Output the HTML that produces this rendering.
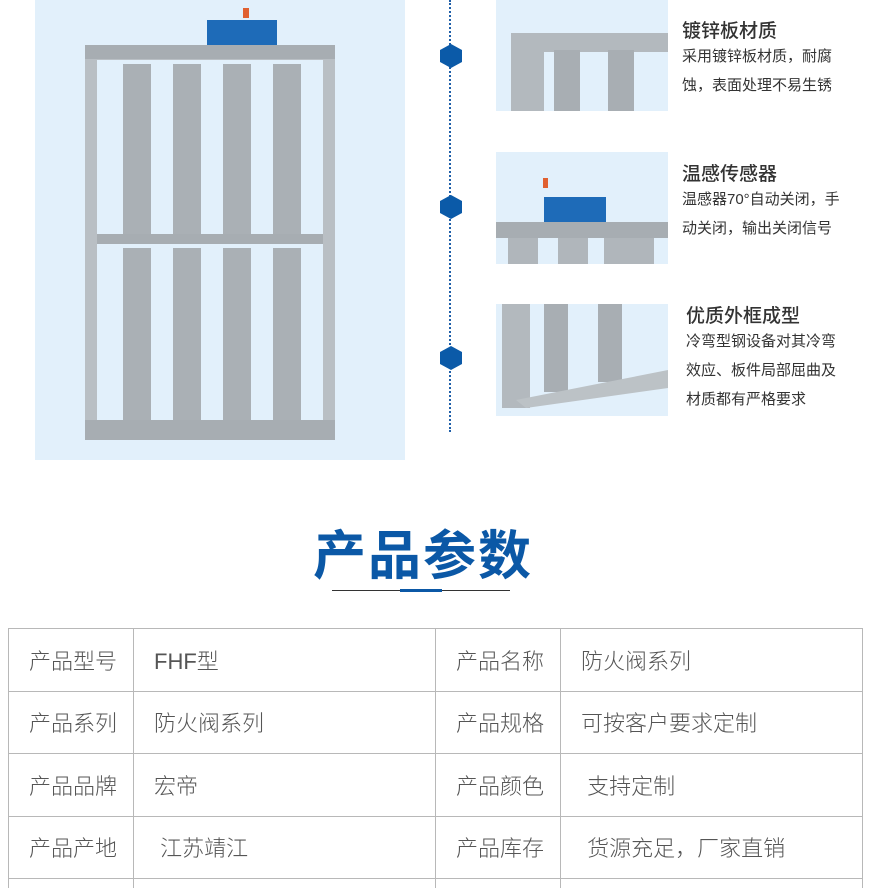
<!DOCTYPE html>
<html style="width:875px;height:888px;overflow:hidden"><head><meta charset="utf-8"><style>
*{margin:0;padding:0;box-sizing:border-box}
body{width:875px;height:888px;background:#fff;position:relative;overflow:hidden;font-family:"Liberation Sans","Noto Sans CJK SC",sans-serif;color:#333}
.a{position:absolute}
.h{font-size:19px;color:#333;font-weight:500}
.d{font-size:15px;line-height:29px;color:#333}
table{position:absolute;left:8px;top:628px;border-collapse:collapse}
td{border:1px solid #b8b8b8;height:62.5px;font-size:22px;color:#555;padding-left:20px;vertical-align:middle;font-weight:300}
tr.last td{height:10px;border-bottom:none}
</style></head><body>
<svg class="a" style="left:35px;top:0" width="370" height="460">
<rect width="370" height="460" fill="#e2f0fb"/>
<rect x="172" y="20" width="70" height="28" fill="#1e6bb8"/>
<rect x="208" y="8" width="6" height="10" fill="#e06030"/>
<rect x="50" y="45" width="250" height="395" fill="#b9bfc4"/>
<rect x="62" y="60" width="226" height="368" fill="#e2f0fb"/>
<rect x="50" y="45" width="250" height="14" fill="#a7adb2"/>
<rect x="62" y="234" width="226" height="10" fill="#a7adb2"/>
<g fill="#aab0b5">
<rect x="88" y="64" width="28" height="170"/><rect x="138" y="64" width="28" height="170"/><rect x="188" y="64" width="28" height="170"/><rect x="238" y="64" width="28" height="170"/>
<rect x="88" y="248" width="28" height="172"/><rect x="138" y="248" width="28" height="172"/><rect x="188" y="248" width="28" height="172"/><rect x="238" y="248" width="28" height="172"/>
</g>
<rect x="50" y="420" width="250" height="20" fill="#a7adb2"/>
</svg>
<div class="a" style="left:449px;top:0;height:432px;border-left:2px dotted #1f5fa8"></div>
<svg class="a" style="left:439px;top:44px" width="24" height="24"><polygon points="12,0 23,6 23,18 12,24 1,18 1,6" fill="#0b5aa8"/></svg>
<svg class="a" style="left:439px;top:195px" width="24" height="24"><polygon points="12,0 23,6 23,18 12,24 1,18 1,6" fill="#0b5aa8"/></svg>
<svg class="a" style="left:439px;top:346px" width="24" height="24"><polygon points="12,0 23,6 23,18 12,24 1,18 1,6" fill="#0b5aa8"/></svg>
<svg class="a" style="left:496px;top:0" width="172" height="111"><rect width="172" height="111" fill="#e2f0fb"/><rect x="15" y="33" width="157" height="78" fill="#b3b9be"/><rect x="48" y="52" width="124" height="59" fill="#e2f0fb"/><rect x="58" y="50" width="26" height="61" fill="#a8aeb3"/><rect x="112" y="50" width="26" height="61" fill="#a8aeb3"/></svg>
<svg class="a" style="left:496px;top:152px" width="172" height="112"><rect width="172" height="112" fill="#e2f0fb"/><rect x="48" y="45" width="62" height="30" fill="#1e6bb8"/><rect x="47" y="26" width="5" height="10" fill="#e06030"/><rect x="0" y="70" width="172" height="16" fill="#a7adb2"/><rect x="12" y="86" width="30" height="26" fill="#b0b6bb"/><rect x="62" y="86" width="30" height="26" fill="#b0b6bb"/><rect x="108" y="86" width="50" height="26" fill="#b0b6bb"/></svg>
<svg class="a" style="left:496px;top:304px" width="172" height="112"><rect width="172" height="112" fill="#e2f0fb"/><rect x="6" y="0" width="28" height="104" fill="#b3b9be"/><rect x="48" y="0" width="24" height="88" fill="#a8aeb3"/><rect x="102" y="0" width="24" height="78" fill="#a8aeb3"/><polygon points="20,96 172,66 172,84 30,104" fill="#bcc2c6"/></svg>
<div class="a h" style="left:682px;top:16px">镀锌板材质</div>
<div class="a d" style="left:682px;top:42px">采用镀锌板材质，耐腐<br>蚀，表面处理不易生锈</div>
<div class="a h" style="left:682px;top:159px">温感传感器</div>
<div class="a d" style="left:682px;top:185px">温感器70°自动关闭，手<br>动关闭，输出关闭信号</div>
<div class="a h" style="left:686px;top:301px">优质外框成型</div>
<div class="a d" style="left:686px;top:327px">冷弯型钢设备对其冷弯<br>效应、板件局部屈曲及<br>材质都有严格要求</div>
<div class="a" style="left:0;width:846px;top:514px;text-align:center;font-size:53px;font-weight:bold;color:#0b58a6;letter-spacing:2px">产品参数</div>
<div class="a" style="left:332px;top:590px;width:178px;height:1px;background:#333"></div>
<div class="a" style="left:400px;top:589px;width:42px;height:3px;background:#0b58a6"></div>
<table>
<tr><td style="width:125px">产品型号</td><td style="width:302px">FHF型</td><td style="width:125px">产品名称</td><td style="width:302px">防火阀系列</td></tr>
<tr><td>产品系列</td><td>防火阀系列</td><td>产品规格</td><td>可按客户要求定制</td></tr>
<tr><td>产品品牌</td><td>宏帝</td><td>产品颜色</td><td>&nbsp;支持定制</td></tr>
<tr><td>产品产地</td><td>&nbsp;江苏靖江</td><td>产品库存</td><td>&nbsp;货源充足，厂家直销</td></tr>
<tr class="last"><td></td><td></td><td></td><td></td></tr>
</table>
</body></html>
